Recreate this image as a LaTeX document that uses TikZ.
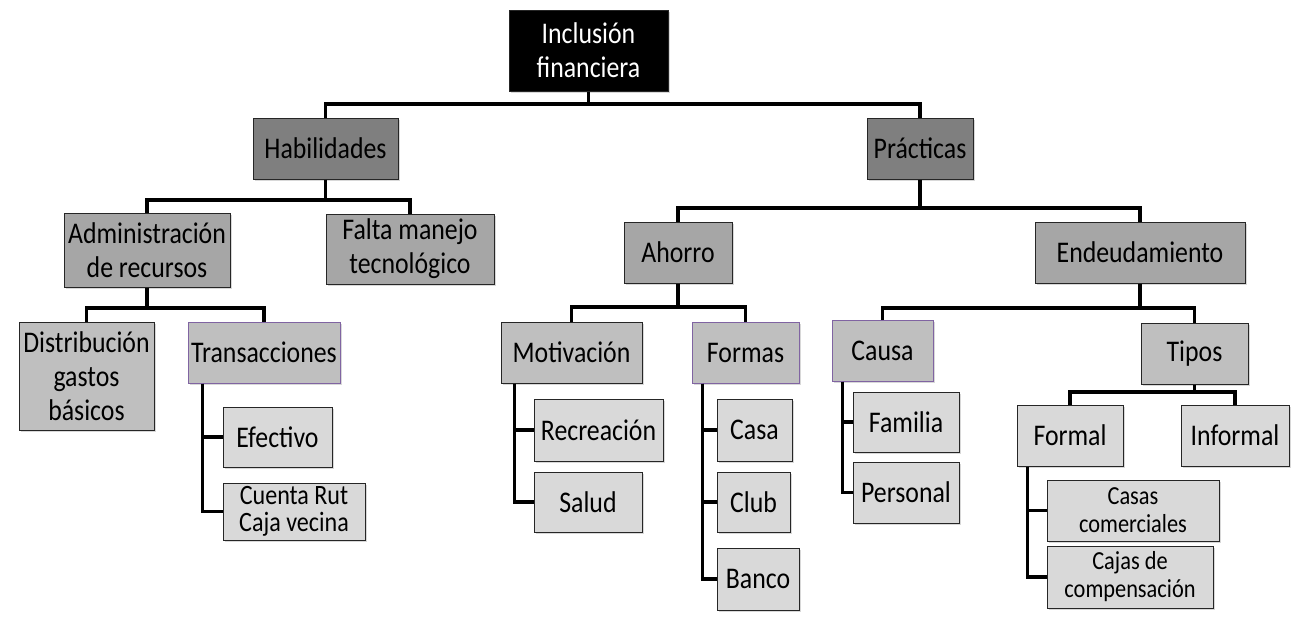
\documentclass[tikz,border=0pt]{standalone}
\usepackage{fontspec}
\setmainfont{Carlito}[FakeStretch=0.86]
\usetikzlibrary{shadows}

\definecolor{grisA}{HTML}{7F7F7F}
\definecolor{grisB}{HTML}{A6A6A6}
\definecolor{grisC}{HTML}{BFBFBF}
\definecolor{grisD}{HTML}{D9D9D9}
\definecolor{lila}{HTML}{8064A2}

\tikzset{
  caja/.style={draw=black!85, line width=1pt, align=center, inner sep=1pt,
    font=\fontsize{30}{34}\selectfont,
    drop shadow={shadow xshift=2pt, shadow yshift=-2pt, opacity=0.3}},
  tam/.style 2 args={minimum width=#1pt, minimum height=#2pt},
  raiz/.style={caja, fill=black, text=white},
  nivA/.style={caja, fill=grisA},
  nivB/.style={caja, fill=grisB},
  nivC/.style={caja, fill=grisC},
  nivCl/.style={caja, fill=grisC, draw=lila},
  hoja/.style={caja, fill=grisD},
  chica/.style={font=\fontsize{26}{28}\selectfont},
  enlace/.style={line width=3.2pt, black}
}

\begin{document}
\begin{tikzpicture}[x=1pt, y=-1pt]
  \useasboundingbox[fill=white] (0,0) rectangle (1302,632);

  \node[raiz, tam={159}{81}] (incl) at (588.5,50.5) {Inclusión\\financiera};

  \node[nivA, tam={145}{61}] (habil) at (325.5,148.5) {Habilidades};
  \node[nivA, tam={106}{61}] (pract) at (920,148.5) {Prácticas};

  \node[nivB, tam={166}{74}] (admin) at (147,250) {Administración\\de recursos};
  \node[nivB, tam={168}{70}] (falta) at (410,249) {Falta manejo\\tecnológico};
  \node[nivB, tam={108}{61}] (ahorro) at (678,252.5) {Ahorro};
  \node[nivB, tam={210}{61}] (endeu) at (1140,252.5) {Endeudamiento};

  \node[nivC, tam={135}{108}] (distr) at (86.5,376) {Distribución\\gastos\\básicos};
  \node[nivCl, tam={152}{61}] (trans) at (264,352.5) {Transacciones};
  \node[nivC, tam={141}{61}] (motiv) at (571.5,352.5) {Motivación};
  \node[nivCl, tam={107}{61}] (formas) at (745.5,352.5) {Formas};
  \node[nivCl, tam={101}{61}] (causa) at (882.5,350.5) {Causa};
  \node[nivC, tam={107}{61}] (tipos) at (1194.5,353.5) {Tipos};

  \node[hoja, tam={109}{60}] (efect) at (277.5,437) {Efectivo};
  \node[hoja, tam={142}{57}, font=\fontsize{28}{27}\selectfont] (cuenta) at (294,511.5) {Cuenta Rut\\Caja vecina};
  \node[hoja, tam={129}{62}] (recre) at (598.5,430) {Recreación};
  \node[hoja, tam={108}{60}] (salud) at (588,502) {Salud};
  \node[hoja, tam={75}{62}] (casa) at (754.5,430) {Casa};
  \node[hoja, tam={73}{60}] (club) at (753.5,502) {Club};
  \node[hoja, tam={82}{62}] (banco) at (758,579) {Banco};
  \node[hoja, tam={106}{60}] (famil) at (906,422) {Familia};
  \node[hoja, tam={106}{61}] (perso) at (906,492.5) {Personal};
  \node[hoja, tam={106}{61}] (formal) at (1070,435.5) {Formal};
  \node[hoja, tam={108}{61}] (inform) at (1235,435.5) {Informal};
  \node[hoja, chica, tam={172}{61}] (casas) at (1133,510.5) {Casas\\comerciales};
  \node[hoja, chica, tam={166}{62}] (cajas) at (1130,577) {Cajas de\\compensación};

  \coordinate (b0) at (588.5,104);
  \coordinate (b1) at (325.5,200);
  \coordinate (b2) at (920,208);
  \coordinate (b3) at (147,308);
  \coordinate (b4) at (678,307);
  \coordinate (b5) at (1140,308);
  \coordinate (b6) at (1194.5,392);
  \coordinate (t1) at ([xshift=15pt]trans.south west);
  \coordinate (t2) at ([xshift=14pt]motiv.south west);
  \coordinate (t3) at ([xshift=11pt]formas.south west);
  \coordinate (t4) at ([xshift=11pt]causa.south west);
  \coordinate (t5) at ([xshift=11pt]formal.south west);

  \draw[enlace] (incl.south) -- (b0);
  \draw[enlace] (habil.north) |- (b0) -| (pract.north);
  \draw[enlace] (habil.south) -- (b1);
  \draw[enlace] (admin.north) |- (b1) -| (falta.north);
  \draw[enlace] (pract.south) -- (b2);
  \draw[enlace] (ahorro.north) |- (b2) -| (endeu.north);
  \draw[enlace] (admin.south) -- (b3);
  \draw[enlace] (distr.north) |- (b3) -| (trans.north);
  \draw[enlace] (ahorro.south) -- (b4);
  \draw[enlace] (motiv.north) |- (b4) -| (formas.north);
  \draw[enlace] (endeu.south) -- (b5);
  \draw[enlace] (causa.north) |- (b5) -| (tipos.north);
  \draw[enlace] (tipos.south) -- (b6);
  \draw[enlace] (formal.north) |- (b6) -| (inform.north);
  \draw[enlace] (t1) |- (efect.west);
  \draw[enlace] (t1) |- (cuenta.west);
  \draw[enlace] (t2) |- (recre.west);
  \draw[enlace] (t2) |- (salud.west);
  \draw[enlace] (t3) |- (casa.west);
  \draw[enlace] (t3) |- (club.west);
  \draw[enlace] (t3) |- (banco.west);
  \draw[enlace] (t4) |- (famil.west);
  \draw[enlace] (t4) |- (perso.west);
  \draw[enlace] (t5) |- (casas.west);
  \draw[enlace] (t5) |- (cajas.west);
\end{tikzpicture}
\end{document}
